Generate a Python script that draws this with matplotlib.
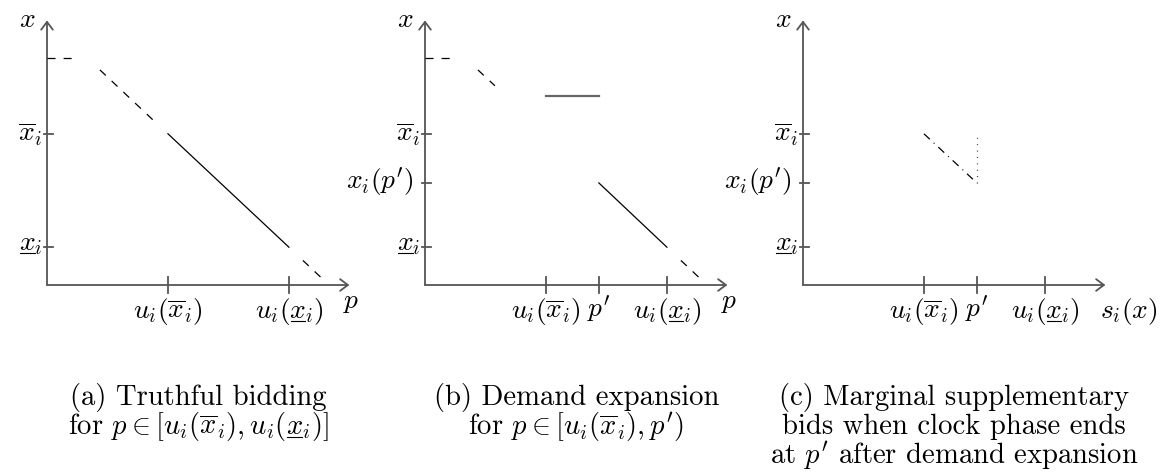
import matplotlib.pyplot as plt
from matplotlib.patches import FancyArrowPatch

plt.rcParams['font.family'] = 'serif'
plt.rcParams['font.serif'] = ['cmr10']
plt.rcParams['mathtext.fontset'] = 'cm'
plt.rcParams['axes.formatter.use_mathtext'] = True
plt.rcParams['lines.scale_dashes'] = False

# ---- data (drawing units) ----
# '@' marks an x that gets an underline (mathtext has no \underline)
p_ticks = [[3.2, 6.4], [3.2, 4.6, 6.4], [3.2, 4.6, 6.4]]
p_labels = [[r'$u_i(\overline{x}_i)$', r'$u_i(@_i)$'],
            [r'$u_i(\overline{x}_i)$', r"$p'$", r'$u_i(@_i)$'],
            [r'$u_i(\overline{x}_i)$', r"$p'$", r'$u_i(@_i)$']]
x_ticks = [[4.0, 1.0], [4.0, 2.7, 1.0], [4.0, 2.7, 1.0]]
x_labels = [[r'$\overline{x}_i$', r'$@_i$'],
            [r'$\overline{x}_i$', r"$x_i(p')$", r'$@_i$'],
            [r'$\overline{x}_i$', r"$x_i(p')$", r'$@_i$']]
h_labels = ['$p$', '$p$', '$s_i(x)$']
captions = [["(a) Truthful bidding",
             r"for $p \in [u_i(\overline{x}_i), u_i(@_i)]$"],
            ["(b) Demand expansion",
             r"for $p \in [u_i(\overline{x}_i), p')$"],
            ["(c) Marginal supplementary",
             "bids when clock phase ends",
             r"at $p'$ after demand expansion"]]

# bid curve pieces per panel: (p values, x values, kind)
pieces = [
    [([0.0, 0.65], [6.0, 6.0], 'ext'),
     ([1.4, 2.8], [5.69, 4.37], 'ext'),
     ([3.2, 6.4], [4.0, 1.0], 'bid'),
     ([6.77, 7.28], [0.65, 0.17], 'ext')],
    [([0.0, 0.65], [6.0, 6.0], 'ext'),
     ([1.4, 1.85], [5.69, 5.27], 'ext'),
     ([3.2, 4.6], [5.0, 5.0], 'expand'),
     ([4.6, 6.4], [2.7, 1.0], 'bid'),
     ([6.77, 7.28], [0.65, 0.17], 'ext')],
    [([3.2, 4.6], [4.0, 2.7], 'supp'),
     ([4.6, 4.6], [2.7, 4.0], 'drop')],
]

styles = {
    'ext': dict(color='black', lw=0.9, ls=(0, (5.8, 5.8))),
    'bid': dict(color='black', lw=0.9, ls='-'),
    'expand': dict(color='#666666', lw=1.6, ls='-'),
    'supp': dict(color='black', lw=0.9, ls=(0, (5.8, 3.8, 0.7, 3.8))),
    'drop': dict(color='#333333', lw=0.9, ls=(0, (0.7, 3.9))),
}

W, H = 1162, 473
U = 37.8                      # px per drawing unit
origins = [47, 425, 803]      # px of the axis origin, y at 285 from top
oy = 285
axcol = '#555555'

fig = plt.figure(figsize=(W / 100, H / 100), dpi=100)
renderer = fig.canvas.get_renderer()


def width(s, fs):
    t = fig.text(0, 0, s, fontsize=fs)
    w = t.get_window_extent(renderer).width
    t.remove()
    return w


# font sizes picked so that two sample strings get the widths seen in the picture
FS = 20 * 70 / width(r'$u_i(\overline{x}_i)$', 20)
CFS = 20 * 257 / width('(a) Truthful bidding', 20)


def text_u(ax, x, y, s, fs, ha='center'):
    # baseline-aligned text; the x marked by '@' is underlined by hand
    t = ax.text(x, y, s.replace('@', 'x'), fontsize=fs, ha=ha, va='baseline')
    if '@' not in s:
        return t
    bb = t.get_window_extent(renderer)
    head = s.split('@')[0]
    if head.count('$') % 2:
        w0 = width(head + '$', fs) if head.strip('$') else 0
        w1 = width(head + 'x$', fs)
    else:
        w0 = width(head, fs)
        w1 = width(head + '$x$', fs)
    base = ax.transData.transform((x, y))[1]
    off = 0.1 * fs * fig.dpi / 72
    inv = ax.transData.inverted()
    xa, ya = inv.transform((bb.x0 + w0 + 1, base - off))
    xb, _ = inv.transform((bb.x0 + w1 - 1, base - off))
    ax.plot([xa, xb], [ya, ya], color='black', lw=0.8)
    return t


for k in range(3):
    ox = origins[k]
    ax = fig.add_axes([(ox - 1.25 * U) / W, 0, 10 * U / W, 1])
    ax.set_xlim(-1.25, 8.75)
    ax.set_ylim(-(H - oy) / U, oy / U)
    ax.axis('off')

    for a, b in [((0, 0), (8, 0)), ((0, 0), (0, 7))]:
        ax.add_patch(FancyArrowPatch(a, b, arrowstyle='->,head_length=0.4,head_width=0.3',
                                     mutation_scale=14, lw=1.3, color=axcol,
                                     shrinkA=0, shrinkB=0))

    for p, lab in zip(p_ticks[k], p_labels[k]):
        ax.plot([p, p], [-0.2, 0.2], color=axcol, lw=1.3)
        text_u(ax, p, -0.87, lab, FS)

    for xv, lab in zip(x_ticks[k], x_labels[k]):
        ax.plot([-0.07, 0.17], [xv, xv], color=axcol, lw=1.3)
        if '@' in lab:
            text_u(ax, -0.12, xv - 0.08, lab, FS, ha='right')
        else:
            dx = -0.32 if "p'" in lab else -0.12
            ax.text(dx, xv, lab, fontsize=FS, ha='right', va='center')

    ax.text(-0.53, 7.0, '$x$', fontsize=FS, ha='center', va='center')
    if k < 2:
        ax.text(8.05, -0.6, h_labels[k], fontsize=FS, ha='center', va='baseline')
    else:
        ax.text(9.38, -0.87, h_labels[k], fontsize=FS, ha='right', va='baseline')

    for ps, xs, kind in pieces[k]:
        ax.plot(ps, xs, dash_capstyle='butt', **styles[kind])

    for j, line in enumerate(captions[k]):
        text_u(ax, 4.0, -3.18 - 0.77 * j, line, CFS)

fig.savefig('out.png', dpi=100)
